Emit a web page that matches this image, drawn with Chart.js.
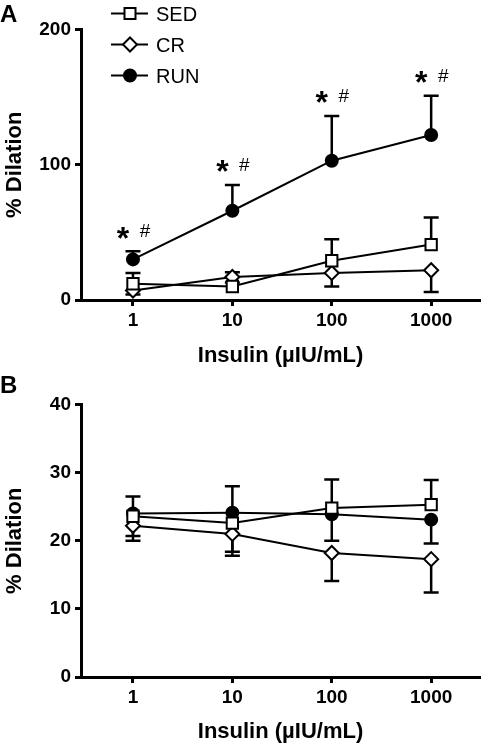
<!DOCTYPE html>
<html>
<head>
<meta charset="utf-8">
<script src="https://cdn.jsdelivr.net/npm/chart.js@4.4.0/dist/chart.umd.min.js"></script>
<style>
body { margin: 0; background: #fff; width: 490px; height: 745px; position: relative; overflow: hidden; font-family: "Liberation Sans", Arial, sans-serif; }
.wrap { position: absolute; left: 0; width: 490px; }
.panel { position: absolute; left: 0; font-weight: bold; font-size: 24px; line-height: 24px; color: #000; }
</style>
</head>
<body>
<div class="wrap" style="top:0;height:375px"><canvas id="chartA"></canvas></div>
<div class="wrap" style="top:375px;height:370px"><canvas id="chartB"></canvas></div>
<div class="panel" style="top:2px">A</div>
<div class="panel" style="top:373px">B</div>
<script>
// doses on the x axis
const doses = [1, 10, 100, 1000];
const doseLabels = ['1', '10', '100', '1000'];
const seriesNames = ['SED', 'CR', 'RUN'];

// panel A - means and SEM
const sedA = [12, 10, 29, 41];
const sedErrA = [8, 10.5, 16, 20];
const crA = [7, 17, 20, 22];
const crErrA = [3, 4, 10, 16];
const runA = [30, 66, 103, 122];
const runErrA = [6, 19, 33, 29];
const starLabels = ['*', '*', '*', '*'];
const hashLabels = ['#', '#', '#', '#'];

// panel B - means and SEM
const sedB = [23.6, 22.6, 24.8, 25.3];
const sedErrB = [2.9, 5.4, 4.2, 3.6];
const crB = [22.2, 21.0, 18.2, 17.3];
const crErrB = [1.5, 3.2, 4.1, 4.9];
const runB = [24.0, 24.1, 23.9, 23.1];
const runErrB = [4.0, 5.7, 3.9, 3.5];

const FONT = '"Liberation Sans", Arial, sans-serif';

function pts(vals) {
    return vals.map((v, i) => ({ x: doses[i], y: v }));
}

function makeSet(label, vals, err, dir, style, radius, fill) {
    return {
        label: label,
        data: pts(vals),
        err: err,
        errDir: dir,
        borderColor: '#000',
        borderWidth: 2,
        pointStyle: style,
        pointRadius: radius,
        pointBackgroundColor: fill,
        pointBorderColor: '#000',
        pointBorderWidth: 2,
        tension: 0,
        clip: false
    };
}

const errorBars = {
    id: 'errorBars',
    beforeDatasetsDraw(chart) {
        const ctx = chart.ctx;
        const ys = chart.scales.y;
        chart.data.datasets.forEach((ds, i) => {
            chart.getDatasetMeta(i).data.forEach((pt, j) => {
                const y2 = ys.getPixelForValue(ds.data[j].y + ds.err[j] * ds.errDir);
                ctx.save();
                ctx.strokeStyle = '#000';
                ctx.lineWidth = 2.5;
                ctx.beginPath();
                ctx.moveTo(pt.x, pt.y);
                ctx.lineTo(pt.x, y2);
                ctx.moveTo(pt.x - 7.5, y2);
                ctx.lineTo(pt.x + 7.5, y2);
                ctx.stroke();
                ctx.restore();
            });
        });
    }
};

const sigMarks = {
    id: 'sigMarks',
    afterDatasetsDraw(chart) {
        const ctx = chart.ctx;
        const xs = chart.scales.x, ys = chart.scales.y;
        ctx.save();
        ctx.fillStyle = '#000';
        ctx.textAlign = 'center';
        ctx.textBaseline = 'alphabetic';
        doses.forEach((d, i) => {
            const px = xs.getPixelForValue(d);
            const cy = ys.getPixelForValue(runA[i] + runErrA[i]) - 21;
            ctx.font = 'bold 32px ' + FONT;
            ctx.fillText(starLabels[i], px - 10, cy + 0.57 * 32);
            ctx.font = '19px ' + FONT;
            ctx.fillText(hashLabels[i], px + 12, cy + 0.36 * 19);
        });
        ctx.restore();
    }
};

const legendBox = {
    id: 'legendBox',
    afterDraw(chart) {
        const ctx = chart.ctx;
        const styles = ['rect', 'diamond', 'circle'];
        ctx.save();
        seriesNames.forEach((name, i) => {
            const cy = 13.5 + i * 31;
            ctx.strokeStyle = '#000';
            ctx.lineWidth = 2;
            ctx.beginPath();
            ctx.moveTo(111, cy);
            ctx.lineTo(148, cy);
            ctx.stroke();
            ctx.beginPath();
            if (styles[i] === 'rect') {
                ctx.rect(124.5, cy - 5.5, 11, 11);
                ctx.fillStyle = '#fff';
            } else if (styles[i] === 'diamond') {
                ctx.moveTo(123, cy); ctx.lineTo(130, cy - 7);
                ctx.lineTo(137, cy); ctx.lineTo(130, cy + 7);
                ctx.closePath();
                ctx.fillStyle = '#fff';
            } else {
                ctx.arc(130, cy, 6, 0, Math.PI * 2);
                ctx.fillStyle = '#000';
            }
            ctx.fill();
            ctx.stroke();
            ctx.fillStyle = '#000';
            ctx.font = '20px ' + FONT;
            ctx.textBaseline = 'alphabetic';
            ctx.fillText(name, 156, cy + 7);
        });
        ctx.restore();
    }
};

function makeOptions(yMax, yStep, xHeight, titlePad) {
    return {
        responsive: true,
        maintainAspectRatio: false,
        animation: false,
        events: [],
        layout: { padding: { top: 29.5, right: 2, left: 0, bottom: 0 } },
        plugins: { legend: { display: false }, tooltip: { enabled: false } },
        scales: {
            x: {
                type: 'logarithmic',
                min: 0.308,
                max: 3100,
                afterBuildTicks: (axis) => { axis.ticks = doses.map(v => ({ value: v })); },
                afterFit: (axis) => { axis.height = xHeight; },
                border: { display: true, color: '#000', width: 3 },
                grid: { drawOnChartArea: false, drawTicks: true, tickLength: 6, tickWidth: 3, tickColor: '#000' },
                ticks: {
                    color: '#000', padding: 3, maxRotation: 0, autoSkip: false,
                    font: { family: FONT, size: 19, weight: 'bold' },
                    callback: (v, i) => doseLabels[i]
                },
                title: {
                    display: true, text: 'Insulin (\u00b5IU/mL)', color: '#000',
                    font: { family: FONT, size: 22, weight: 'bold' },
                    padding: { top: 0, bottom: titlePad }
                }
            },
            y: {
                min: 0,
                max: yMax,
                afterFit: (axis) => { axis.width = 81; },
                border: { display: true, color: '#000', width: 3 },
                grid: { drawOnChartArea: false, drawTicks: true, tickLength: 6, tickWidth: 3, tickColor: '#000' },
                ticks: {
                    stepSize: yStep, color: '#000', padding: 4,
                    font: { family: FONT, size: 19, weight: 'bold' }
                },
                title: {
                    display: true, text: '% Dilation', color: '#000',
                    font: { family: FONT, size: 22, weight: 'bold' },
                    padding: { top: 2, bottom: 0 }
                }
            }
        }
    };
}

new Chart(document.getElementById('chartA'), {
    type: 'line',
    data: {
        datasets: [
            makeSet('SED', sedA, sedErrA, 1, 'rect', 8, '#fff'),
            makeSet('CR', crA, crErrA, -1, 'rectRot', 7, '#fff'),
            makeSet('RUN', runA, runErrA, 1, 'circle', 6, '#000')
        ]
    },
    options: makeOptions(200, 100, 75, 6),
    plugins: [errorBars, sigMarks, legendBox]
});

new Chart(document.getElementById('chartB'), {
    type: 'line',
    data: {
        datasets: [
            makeSet('SED', sedB, sedErrB, 1, 'rect', 8, '#fff'),
            makeSet('CR', crB, crErrB, -1, 'rectRot', 7, '#fff'),
            makeSet('RUN', runB, runErrB, -1, 'circle', 6, '#000')
        ]
    },
    options: makeOptions(40, 10, 68, 0),
    plugins: [errorBars]
});
</script>
</body>
</html>
